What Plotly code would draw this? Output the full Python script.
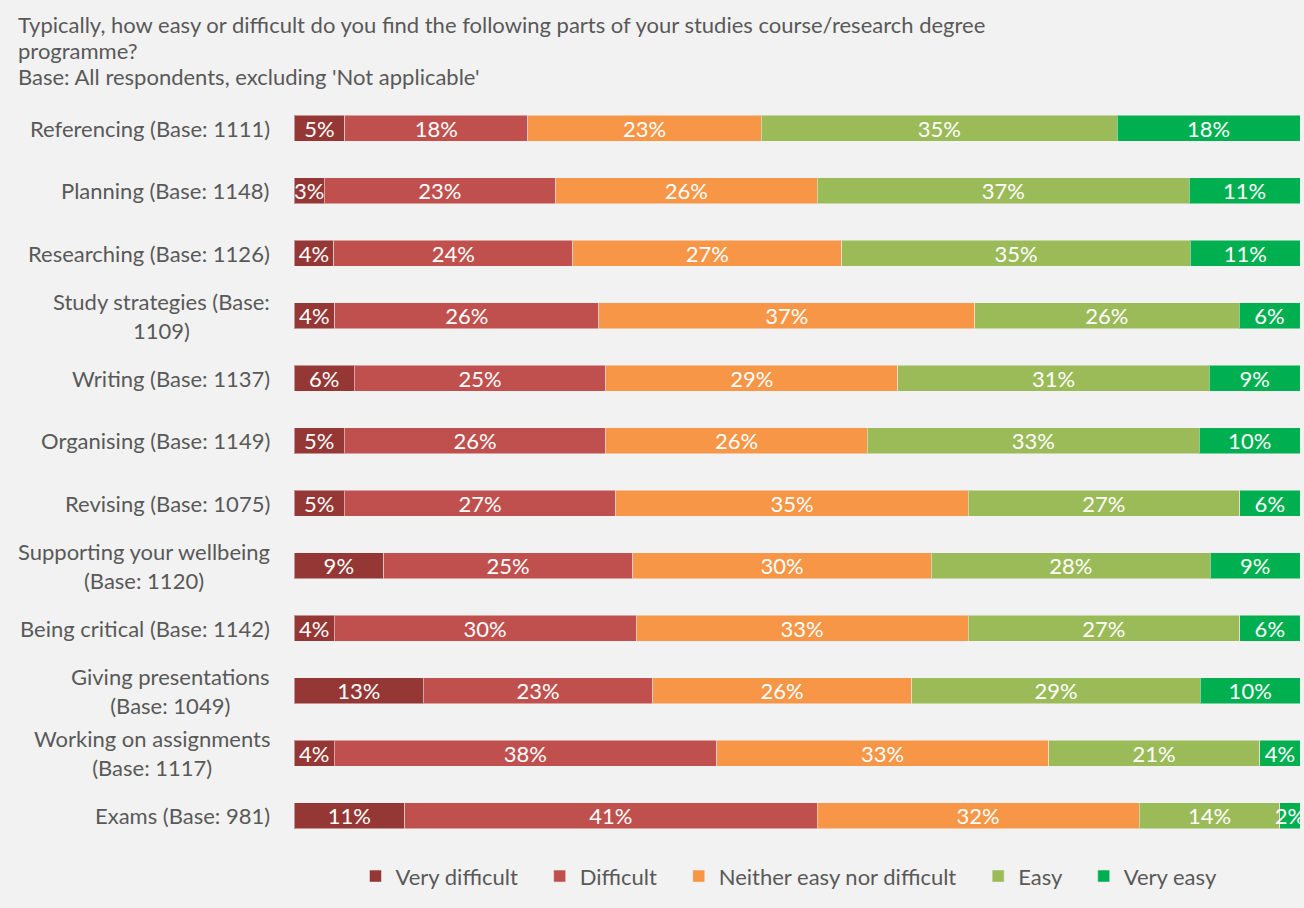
import plotly.graph_objects as go

# Survey items (top to bottom) and response shares in percent
items = [
    "Referencing (Base: 1111)",
    "Planning (Base: 1148)",
    "Researching (Base: 1126)",
    "Study strategies (Base:<br>1109)",
    "Writing (Base: 1137)",
    "Organising (Base: 1149)",
    "Revising (Base: 1075)",
    "Supporting your wellbeing<br>(Base: 1120)",
    "Being critical (Base: 1142)",
    "Giving presentations<br>(Base: 1049)",
    "Working on assignments<br>(Base: 1117)",
    "Exams (Base: 981)",
]

very_difficult = [5, 3, 4, 4, 6, 5, 5, 9, 4, 13, 4, 11]
difficult = [18, 23, 24, 26, 25, 26, 27, 25, 30, 23, 38, 41]
neither = [23, 26, 27, 37, 29, 26, 35, 30, 33, 26, 33, 32]
easy = [35, 37, 35, 26, 31, 33, 27, 28, 27, 29, 21, 14]
very_easy = [18, 11, 11, 6, 9, 10, 6, 9, 6, 10, 4, 2]

title_lines = [
    "Typically, how easy or difficult do you find the following parts of your studies course/research degree",
    "programme?",
    "Base: All respondents, excluding 'Not applicable'",
]

series = [
    ("Very difficult", very_difficult, "#953735"),
    ("Difficult", difficult, "#C0504D"),
    ("Neither easy nor difficult", neither, "#F79646"),
    ("Easy", easy, "#9BBB59"),
    ("Very easy", very_easy, "#00B050"),
]

FONT = "Lato"
SIZE = 22
GREY = "#595959"
PAD = "\u00a0" * 3  # extra room after each legend entry

fig = go.Figure()
for name, vals, color in series:
    fig.add_trace(go.Bar(
        name=name + PAD,
        y=items,
        x=vals,
        orientation="h",
        marker=dict(color=color, line=dict(color="rgba(242,242,242,0.5)", width=1)),
        text=[f"{v}%" for v in vals],
        textposition="inside",
        insidetextanchor="middle",
        textangle=0,
        constraintext="none",
        textfont=dict(family=FONT, size=SIZE, color="white"),
        width=0.415,
    ))

# Category labels: right-aligned block, each wrapped line centred within it
label_annotations = [
    dict(
        text=lab, xref="paper", yref="y", x=0, y=lab,
        xanchor="right", yanchor="middle", xshift=-22,
        align="center", showarrow=False,
        font=dict(family=FONT, size=SIZE, color=GREY),
    )
    for lab in items
]

# Title block, one annotation per line for tight line spacing
title_annotations = [
    dict(
        text=line,
        xref="paper", yref="paper",
        x=0, xshift=-294 + 16, y=1, yshift=97 - 24 - 26 * i,
        xanchor="left", yanchor="middle",
        align="left",
        showarrow=False,
        font=dict(family=FONT, size=SIZE, color=GREY),
    )
    for i, line in enumerate(title_lines)
]

fig.update_layout(
    barmode="stack",
    barnorm="percent",
    width=1304,
    height=908,
    paper_bgcolor="#F2F2F2",
    plot_bgcolor="#F2F2F2",
    margin=dict(l=294, r=4, t=97, b=61),
    font=dict(family=FONT, size=SIZE, color=GREY),
    xaxis=dict(visible=False, range=[0, 100], fixedrange=True),
    yaxis=dict(
        autorange="reversed",
        showgrid=False,
        zeroline=False,
        showline=False,
        showticklabels=False,
        ticks="",
    ),
    legend=dict(
        orientation="h",
        x=0.5,
        xanchor="center",
        y=-0.039,
        yanchor="middle",
        font=dict(family=FONT, size=SIZE, color=GREY),
        itemwidth=30,
        traceorder="normal",
    ),
    annotations=label_annotations + title_annotations,
)

fig.write_html("out.html")
